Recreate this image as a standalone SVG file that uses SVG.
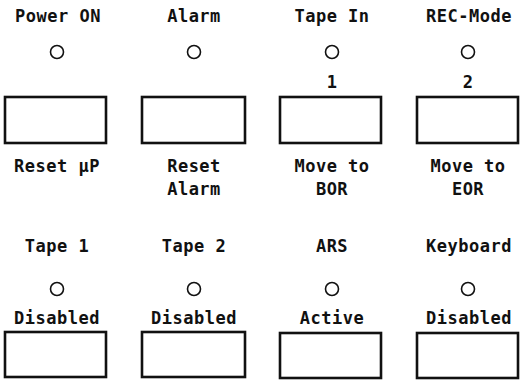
<svg xmlns="http://www.w3.org/2000/svg" width="520" height="380" viewBox="0 0 520 380">
<style>
text{font-family:"DejaVu Sans Mono","Liberation Mono",monospace;font-weight:bold;font-size:17px;letter-spacing:0.5px;text-anchor:middle;fill:#111}
.led{fill:none;stroke:#111;stroke-width:1.6}
.key{fill:#fff;stroke:#111;stroke-width:2.6}
</style>
<rect width="520" height="380" fill="#fff"/>
<g id="power-on">
<text x="58" y="22">Power ON</text>
<circle class="led" cx="57" cy="52" r="6.5"/>
<rect class="key" x="5" y="97" width="101" height="46"/>
<text x="57" y="172">Reset µP</text>
</g>
<g id="alarm">
<text x="194" y="22">Alarm</text>
<circle class="led" cx="194" cy="52" r="6.5"/>
<rect class="key" x="142" y="97" width="103" height="46"/>
<text x="194" y="172">Reset</text>
<text x="194" y="195">Alarm</text>
</g>
<g id="tape-in">
<text x="332" y="22">Tape In</text>
<circle class="led" cx="332" cy="52" r="6.5"/>
<text x="332" y="88">1</text>
<rect class="key" x="280" y="97" width="101" height="46"/>
<text x="332" y="172">Move to</text>
<text x="332" y="195">BOR</text>
</g>
<g id="rec-mode">
<text x="469" y="22">REC-Mode</text>
<circle class="led" cx="468" cy="52" r="6.5"/>
<text x="468" y="88">2</text>
<rect class="key" x="417" y="97" width="101" height="46"/>
<text x="468" y="172">Move to</text>
<text x="468" y="195">EOR</text>
</g>
<g id="tape-1">
<text x="57" y="252">Tape 1</text>
<circle class="led" cx="57" cy="289" r="6.5"/>
<text x="57" y="324">Disabled</text>
<rect class="key" x="5" y="332" width="101" height="45"/>
</g>
<g id="tape-2">
<text x="194" y="252">Tape 2</text>
<circle class="led" cx="194" cy="289" r="6.5"/>
<text x="194" y="324">Disabled</text>
<rect class="key" x="142" y="332" width="103" height="45"/>
</g>
<g id="ars">
<text x="332" y="252">ARS</text>
<circle class="led" cx="332" cy="289" r="6.5"/>
<text x="332" y="324">Active</text>
<rect class="key" x="280" y="333" width="101" height="45"/>
</g>
<g id="keyboard">
<text x="469" y="252">Keyboard</text>
<circle class="led" cx="468" cy="289" r="6.5"/>
<text x="469" y="324">Disabled</text>
<rect class="key" x="417" y="333" width="101" height="45"/>
</g>
</svg>
